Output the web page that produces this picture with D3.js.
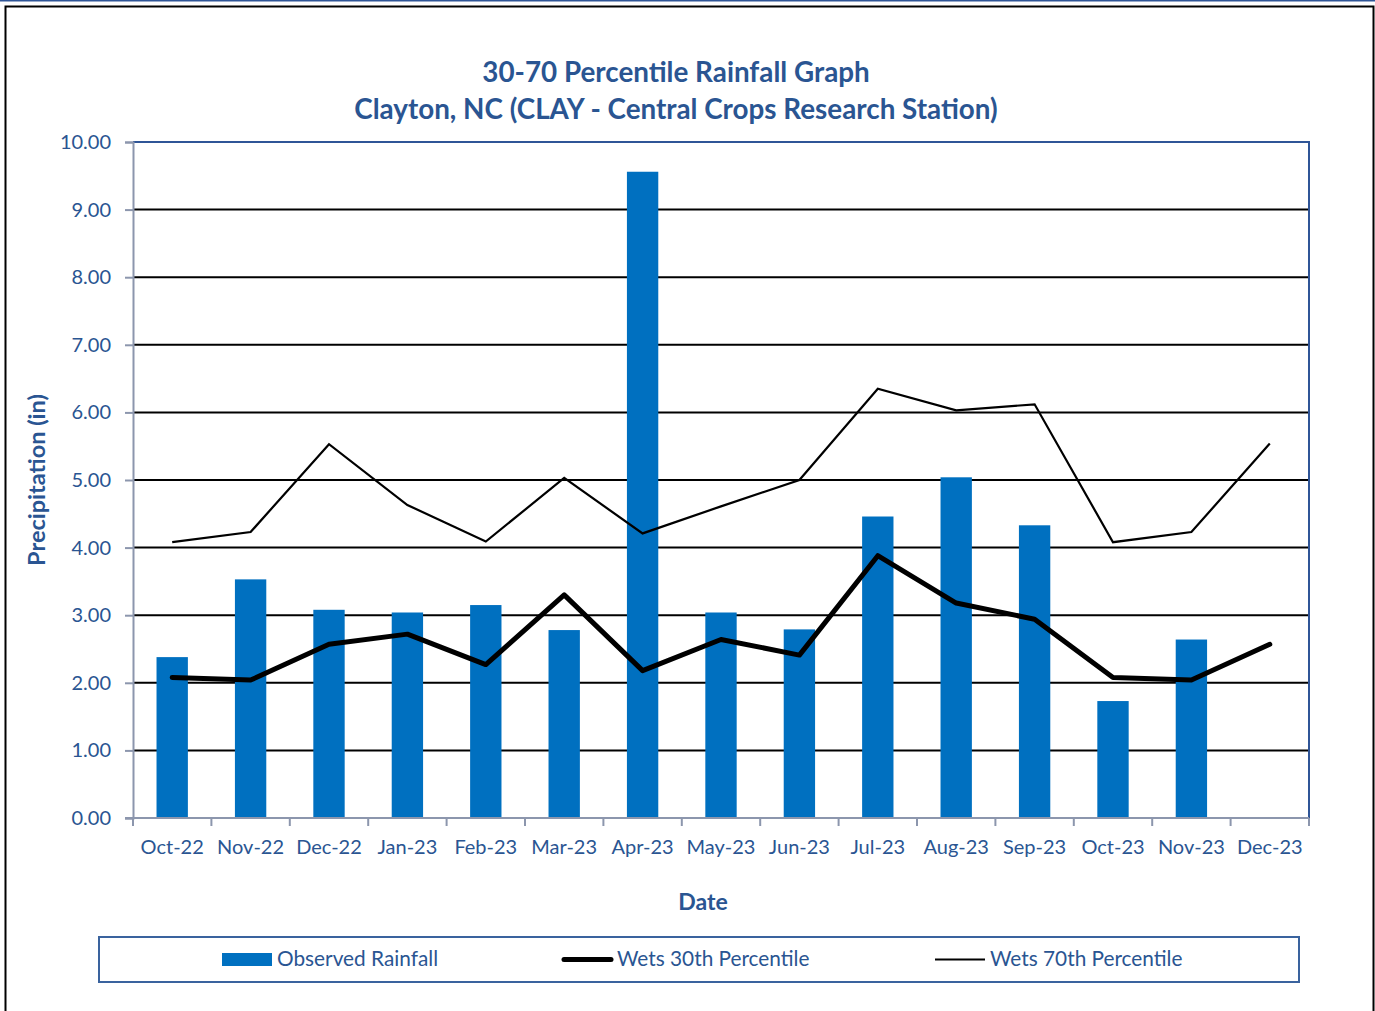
<!DOCTYPE html>
<html><head><meta charset="utf-8">
<script src="https://cdn.jsdelivr.net/npm/d3@7"></script>
<style>body{margin:0;background:#fff;} svg{display:block;}</style>
</head><body>
<script>
const categories = ["Oct-22","Nov-22","Dec-22","Jan-23","Feb-23","Mar-23","Apr-23","May-23","Jun-23","Jul-23","Aug-23","Sep-23","Oct-23","Nov-23","Dec-23"];
const observed = [2.38,3.53,3.08,3.04,3.15,2.78,9.56,3.04,2.79,4.46,5.04,4.33,1.73,2.64,null];
const pct30 = [2.08,2.04,2.57,2.72,2.27,3.30,2.18,2.64,2.41,3.88,3.18,2.94,2.08,2.04,2.57];
const pct70 = [4.08,4.23,5.53,4.63,4.09,5.03,4.21,4.61,5.00,6.35,6.03,6.12,4.08,4.23,5.54];
const yTicks = [0,1,2,3,4,5,6,7,8,9,10];
const titleLines = ["30-70 Percentile Rainfall Graph","Clayton, NC (CLAY - Central Crops Research Station)"];
const legendLabels = ["Observed Rainfall","Wets 30th Percentile","Wets 70th Percentile"];

const W=1375,H=1011;
const txt="#2a5592", font="Lato, 'Open Sans', sans-serif";
const svg=d3.select("body").append("svg").attr("width",W).attr("height",H);

// outer frame
svg.append("line").attr("x1",0).attr("x2",W).attr("y1",0.5).attr("y2",0.5).attr("stroke","#2f5597").attr("stroke-width",2);
svg.append("rect").attr("x",5.5).attr("y",6.5).attr("width",1368).attr("height",1020).attr("fill","none").attr("stroke","#000").attr("stroke-width",2);

const L=133,R=1309,T=142,B=818;
const x=d3.scaleBand().domain(categories).range([L,R]).paddingInner(0.6).paddingOuter(0.3);
const xc=d=>x(d)+x.bandwidth()/2;
const y=d3.scaleLinear().domain([0,10]).range([B,T]);

// title
svg.append("g").selectAll("text").data(titleLines).join("text")
  .attr("x",676).attr("y",(d,i)=>82+i*37).attr("text-anchor","middle")
  .attr("font-family",font).attr("font-weight","bold").attr("font-size",27.8).attr("fill",txt).text(d=>d);

// gridlines
svg.append("g").selectAll("line").data(yTicks.filter(v=>v>0&&v<10)).join("line")
  .attr("x1",L).attr("x2",R).attr("y1",d=>y(d)).attr("y2",d=>y(d)).attr("stroke","#000").attr("stroke-width",2);

// bars
svg.append("g").selectAll("rect").data(categories.map((c,i)=>({c,v:observed[i]})).filter(d=>d.v!=null)).join("rect")
  .attr("x",d=>x(d.c)).attr("width",x.bandwidth()).attr("y",d=>y(d.v)).attr("height",d=>B-y(d.v)).attr("fill","#0070c0");

// plot frame (top/right)
svg.append("path").attr("d",`M${L},${T}H${R}V${B}`).attr("fill","none").attr("stroke","#2f5597").attr("stroke-width",2);

// y axis
const yAxis=d3.axisLeft(y).tickValues(yTicks).tickFormat(d3.format(".2f")).tickSize(8).tickPadding(14);
const gy=svg.append("g").attr("transform",`translate(${L},0)`).call(yAxis);
gy.select(".domain").attr("stroke","#8c96ad").attr("stroke-width",2);
gy.selectAll(".tick line").attr("stroke","#8c96ad").attr("stroke-width",2);
gy.selectAll(".tick text").attr("font-family",font).attr("font-size",20).attr("fill",txt);

// x axis
const gx=svg.append("g").attr("transform",`translate(0,${B})`);
gx.append("line").attr("x1",L-8).attr("x2",R).attr("y1",0).attr("y2",0).attr("stroke","#8c96ad").attr("stroke-width",2);
const bounds=d3.range(categories.length+1).map(i=>L+i*(R-L)/categories.length);
gx.selectAll("line.tk").data(bounds).join("line").attr("class","tk")
  .attr("x1",d=>d).attr("x2",d=>d).attr("y1",0).attr("y2",8).attr("stroke","#8c96ad").attr("stroke-width",2);
gx.selectAll("text").data(categories).join("text")
  .attr("x",d=>xc(d)).attr("y",36).attr("text-anchor","middle")
  .attr("font-family",font).attr("font-size",20).attr("fill",txt).text(d=>d);

// lines
const line=d3.line().x((d,i)=>xc(categories[i])).y(d=>y(d));
svg.append("path").attr("d",line(pct70)).attr("fill","none").attr("stroke","#000").attr("stroke-width",2.2).attr("stroke-linejoin","miter");
svg.append("path").attr("d",line(pct30)).attr("fill","none").attr("stroke","#000").attr("stroke-width",5).attr("stroke-linecap","round").attr("stroke-linejoin","round");

// axis titles
svg.append("text").attr("x",703).attr("y",910).attr("text-anchor","middle").attr("font-family",font).attr("font-weight","bold").attr("font-size",23).attr("fill",txt).text("Date");
svg.append("text").attr("transform","translate(45,480) rotate(-90)").attr("text-anchor","middle").attr("font-family",font).attr("font-weight","bold").attr("font-size",23.5).attr("fill",txt).text("Precipitation (in)");

// legend
svg.append("rect").attr("x",99).attr("y",937).attr("width",1200).attr("height",45).attr("fill","none").attr("stroke","#3a639e").attr("stroke-width",2);
const lg=svg.append("g");
lg.append("rect").attr("x",222).attr("y",953).attr("width",50).attr("height",13).attr("fill","#0070c0");
lg.append("line").attr("x1",564).attr("x2",611).attr("y1",959.5).attr("y2",959.5).attr("stroke","#000").attr("stroke-width",5).attr("stroke-linecap","round");
lg.append("line").attr("x1",935).attr("x2",985).attr("y1",959.5).attr("y2",959.5).attr("stroke","#000").attr("stroke-width",2);
lg.selectAll("text").data(legendLabels).join("text")
  .attr("x",(d,i)=>[277,617,990][i]).attr("y",966)
  .attr("font-family",font).attr("font-size",20.8).attr("fill",txt).text(d=>d);
</script>
</body></html>
